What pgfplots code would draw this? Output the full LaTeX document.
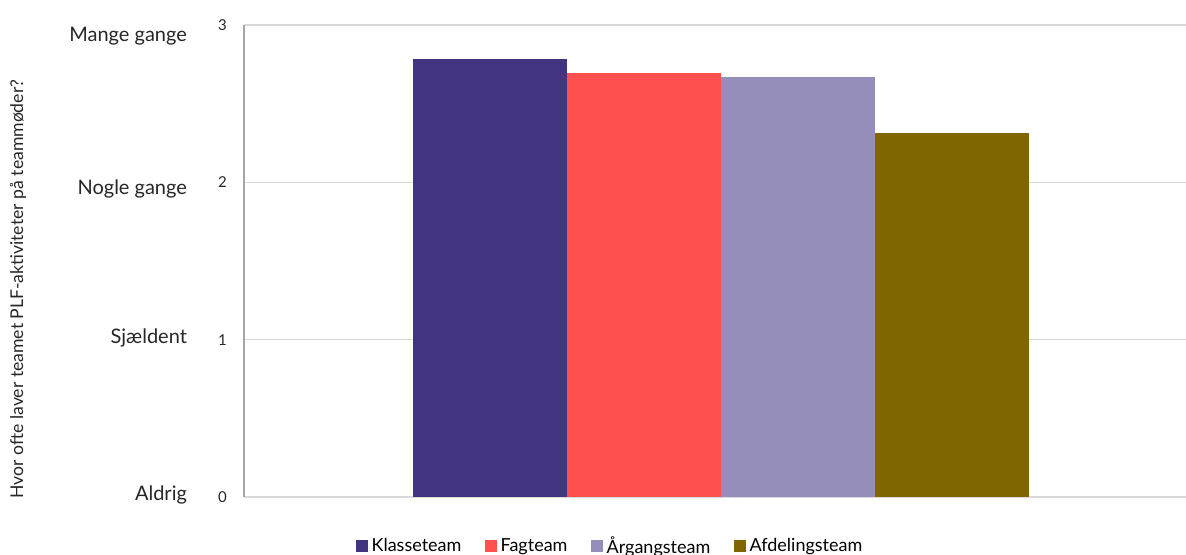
\documentclass[border=0pt]{standalone}
\usepackage{fontspec}
\setmainfont{Lato}
\usepackage{pgfplots}
\pgfplotsset{compat=1.18}
\usetikzlibrary{calc}
\definecolor{klasse}{RGB}{66,52,128}
\definecolor{fag}{RGB}{255,80,80}
\definecolor{aargang}{RGB}{149,141,186}
\definecolor{afdeling}{RGB}{128,102,0}
\definecolor{gridgray}{RGB}{217,217,217}
\definecolor{txt}{RGB}{38,38,38}
\begin{document}
\begin{tikzpicture}
  \begin{axis}[
      name=ax,
      width=471pt, height=236pt, scale only axis,
      clip=false,
      xmin=-0.6, xmax=5.52,
      ymin=0, ymax=3,
      ytick={0,1,2,3},
      xtick=\empty,
      major tick length=0pt,
      ymajorgrids,
      grid style={gridgray, line width=0.6pt},
      axis lines=left,
      axis line style={-},
      x axis line style={draw=gridgray, line width=0.8pt},
      y axis line style={draw=gray!70, line width=0.6pt},
      y tick label style={font=\fontsize{7.5}{9}\selectfont, text=txt, xshift=-5pt},
      /pgf/number format/assume math mode=true,
      ybar, bar width=1,
      legend style={draw=none, at={(0.39,-0.104)}, anchor=center,
          legend columns=4, font=\fontsize{9}{10}\selectfont,
          /tikz/every even column/.append style={column sep=10pt},
          inner sep=0pt},
      legend image code/.code={\fill[#1] (0pt,-2.8pt) rectangle (5.6pt,2.8pt);},
    ]
    \addplot[draw=none, fill=klasse, bar shift=0pt] coordinates {(1,2.785)};
    \addlegendentry{Klasseteam}
    \addplot[draw=none, fill=fag, bar shift=0pt] coordinates {(2,2.695)};
    \addlegendentry{Fagteam}
    \addplot[draw=none, fill=aargang, bar shift=0pt] coordinates {(3,2.67)};
    \addlegendentry{Årgangsteam}
    \addplot[draw=none, fill=afdeling, bar shift=0pt] coordinates {(4,2.314)};
    \addlegendentry{Afdelingsteam}
    \node[anchor=east, text=txt, font=\fontsize{10}{12}\selectfont] at ([xshift=-25pt]axis cs:-0.6,2.93) {Mange gange};
    \node[anchor=east, text=txt, font=\fontsize{10}{12}\selectfont] at ([xshift=-25pt]axis cs:-0.6,1.96) {Nogle gange};
    \node[anchor=east, text=txt, font=\fontsize{10}{12}\selectfont] at ([xshift=-25pt]axis cs:-0.6,1.01) {Sjældent};
    \node[anchor=east, text=txt, font=\fontsize{10}{12}\selectfont] at ([xshift=-25pt]axis cs:-0.6,0.015) {Aldrig};
  \end{axis}
  \node[rotate=90, text=txt, font=\fontsize{8.8}{10}\selectfont] at ($(ax.west)+(-113pt,-14pt)$) {Hvor ofte laver teamet PLF-aktiviteter på teammøder?};
  \pgfresetboundingbox
  \path ($(ax.south west)+(-122pt,-29pt)$) rectangle ($(ax.north east)+(0pt,12.5pt)$);
\end{tikzpicture}
\end{document}
